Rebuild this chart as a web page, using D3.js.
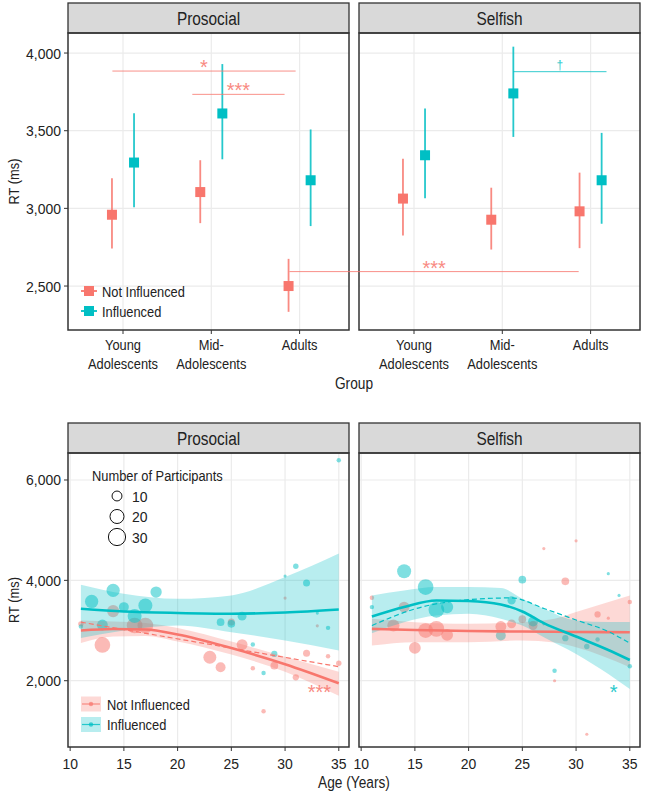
<!DOCTYPE html>
<html>
<head>
<meta charset="utf-8">
<script src="https://cdn.jsdelivr.net/npm/d3@7"></script>
<style>
  body { margin: 0; background: #fff; }
  svg text { font-family: "Liberation Sans", Arial, sans-serif; fill: #222; }
</style>
</head>
<body>
<svg id="chart" width="646" height="795"></svg>
<script>
// ---- data ----
var panels = ["Prosocial", "Selfish"];
var groups = ["Young\nAdolescents", "Mid-\nAdolescents", "Adults"];
var conditions = ["Not Influenced", "Influenced"];

// top: mean RT with interval, [lo, mean, hi]
var prosocialNot = [[2742, 2959, 3194], [2905, 3105, 3310], [2334, 2500, 2675]];
var prosocialInf = [[3008, 3295, 3613], [3316, 3611, 3929], [2886, 3181, 3508]];
var selfishNot   = [[2826, 3063, 3320], [2735, 2927, 3133], [2744, 2981, 3230]];
var selfishInf   = [[3065, 3342, 3643], [3460, 3740, 4041], [2901, 3181, 3486]];

var topYTicks = [2500, 3000, 3500, 4000];
var bottomYTicks = [2000, 4000, 6000];
var ageTicks = [10, 15, 20, 25, 30, 35];
var sizeLegend = [10, 20, 30];

// significance brackets, x in group index units (1..3)
var prosocialBrackets = [
  {x1: 0.88, x2: 2.955, y: 3884, label: "*", cond: 0},
  {x1: 1.785, x2: 2.83, y: 3734, label: "***", cond: 0}
];
var selfishBrackets = [
  {x1: 2.125, x2: 3.18, y: 3880, label: "\u2020", cond: 1}
];
// spans both panels: from Prosocial adults to Selfish adults
var crossBracket = {x1: 2.885, x2: 2.865, y: 2593, label: "***", cond: 0};

// bottom: [age, RT, number of participants]
var prosocialNotPts = [[11,3133,3],[13,2713,25],[14,3387,15],[16,3100,25],[17,3100,25],[23,2467,17],[24,2267,10],[25,3170,5],[26,2720,12],[27,2247,2],[28,1393,2],[29,2300,6],[30,3647,1],[31,2067,4],[32,2547,5],[33,3093,1],[34,2487,2],[35,2347,3]];
var prosocialInfPts = [[11,3080,2],[12,3580,18],[13,3110,12],[14,3800,18],[15,3467,10],[16,3290,20],[17,3500,20],[18,3767,13],[24,3167,6],[25,3133,6],[26,3287,8],[27,2720,2],[28,2153,2],[29,2533,4],[30,4087,1],[31,4280,3],[32,3947,5],[33,3347,1],[34,3053,2],[35,6393,2]];
var selfishNotPts = [[11,3653,2],[13,3100,15],[14,3467,12],[15,2653,14],[16,3000,22],[17,3033,25],[18,2913,14],[23,3080,12],[24,3133,8],[25,3227,6],[26,3100,8],[27,4633,1],[28,2000,1],[29,3980,6],[30,4787,1],[31,933,1],[32,3320,4],[33,3247,1],[35,3567,2]];
var selfishInfPts = [[11,3467,2],[14,4180,20],[16,3867,25],[17,3413,25],[18,3467,15],[23,2900,10],[24,3600,7],[25,4013,6],[26,3180,10],[27,3133,1],[28,2200,2],[29,2847,4],[31,2680,3],[32,2820,2],[33,4133,1],[34,3700,1],[35,2287,2]];

// smooth fits: [age, lo, fit, hi]
var prosocialNotFit = [[11,2750,3000,3200],[14,2880,3030,3180],[17,2890,3020,3150],[20,2780,2920,3050],[25,2520,2650,2780],[30,2180,2330,2480],[35,1700,1950,2180]];
var prosocialInfFit = [[11,2850,3433,3913],[15,3000,3380,3733],[20,3100,3350,3633],[25,2967,3335,3700],[30,2800,3360,4067],[35,2600,3420,4533]];
var selfishNotFit = [[11,2700,3033,3233],[15,2767,3010,3167],[20,2767,2990,3133],[25,2800,2980,3167],[28,2760,2975,3233],[30,2667,2970,3367],[35,2267,2967,3700]];
var selfishInfFit = [[11,2947,3280,3700],[14,3167,3470,3800],[17,3300,3600,3867],[20,3333,3590,3867],[23,3233,3520,3847],[25,3100,3380,3633],[27,2867,3147,3433],[30,2533,2880,3200],[33,2133,2613,3170],[35,1833,2413,3170]];
// dashed trend lines
var prosocialNotTrend = [[11,3167],[35,2280]];
var selfishInfTrend = [[11,3100],[15,3430],[20,3615],[24,3650],[27,3440],[30,3210],[33,2980],[35,2747]];

var colors = ["#F8766D", "#00BFC4"];

// ---- layout ----
var svg = d3.select("#chart");
svg.append("rect").attr("width", 646).attr("height", 795).attr("fill", "#fff");

var panelX = [[68, 349], [359, 640]];
var topBox = {strip: 3, y0: 33, y1: 330};
var botBox = {strip: 423, y0: 453, y1: 747};
var gridColor = "#ebebeb";
var borderColor = "#333";

var yTop = d3.scaleLinear().domain([2217, 4129]).range([topBox.y1, topBox.y0]);
var yBot = d3.scaleLinear().domain([679, 6538]).range([botBox.y1, botBox.y0]);
var size = d3.scaleSqrt().domain([0, 30]).range([0, 8.6]);
var dodge = 0.125;

function groupScale(p) {
  var l = panelX[p][0];
  return d3.scaleLinear().domain([1, 3]).range([l + 55, l + 55 + 2 * 88.3]);
}
function ageScale(p) {
  return d3.scaleLinear().domain([9.8, 35.95]).range(panelX[p]);
}

// condensed-looking text: squeeze a normal sans horizontally
function label(parent, x, y, s, o) {
  o = o || {};
  var numeric = /^[\d,]+$/.test(String(s));
  var sx = o.sx || (numeric ? 0.9 : 0.83);
  return parent.append("text")
    .attr("transform", "translate(" + x + "," + y + ")" + (o.rotate ? " rotate(-90)" : "") + " scale(" + sx + ",1)")
    .attr("text-anchor", o.anchor || "start")
    .attr("font-size", o.size || 15.5)
    .text(s);
}

function strip(p, y, name) {
  var x0 = panelX[p][0], x1 = panelX[p][1];
  svg.append("rect").attr("x", x0).attr("y", y).attr("width", x1 - x0).attr("height", 30)
    .attr("fill", "#d9d9d9").attr("stroke", borderColor).attr("stroke-width", 1.3);
  label(svg, (x0 + x1) / 2, y + 22, name, {anchor: "middle", size: 19, sx: 0.81});
}

function frame(p, box) {
  var x0 = panelX[p][0], x1 = panelX[p][1];
  svg.append("rect").attr("x", x0).attr("y", box.y0).attr("width", x1 - x0).attr("height", box.y1 - box.y0)
    .attr("fill", "none").attr("stroke", borderColor).attr("stroke-width", 1.5);
}

function yAxis(scale, ticks, box) {
  var x0 = panelX[0][0];
  ticks.forEach(function(t) {
    svg.append("line").attr("x1", x0 - 4).attr("x2", x0).attr("y1", scale(t)).attr("y2", scale(t))
      .attr("stroke", borderColor).attr("stroke-width", 1);
    label(svg, x0 - 7, scale(t) + 5.5, d3.format(",")(t), {anchor: "end"});
  });
  label(svg, 19, (box.y0 + box.y1) / 2, "RT (ms)", {anchor: "middle", rotate: true});
}

// significance marks sit just above their line
function stars(parent, x, y, s, cond) {
  var dagger = s === "\u2020";
  parent.append("text").attr("x", x).attr("y", dagger ? y - 3 : y + 3).attr("text-anchor", "middle")
    .attr("font-size", dagger ? 12 : 20)
    .style("fill", colors[cond]).attr("opacity", 0.85).text(s);
}

// ---- top row ----
var topData = [[prosocialNot, prosocialInf], [selfishNot, selfishInf]];
var topBrackets = [prosocialBrackets, selfishBrackets];

panels.forEach(function(name, p) {
  var gx = groupScale(p);
  var x0 = panelX[p][0], x1 = panelX[p][1];
  var g = svg.append("g");
  topYTicks.forEach(function(t) {
    g.append("line").attr("x1", x0).attr("x2", x1).attr("y1", yTop(t)).attr("y2", yTop(t))
      .attr("stroke", gridColor).attr("stroke-width", 1.2);
  });
  groups.forEach(function(c, i) {
    g.append("line").attr("x1", gx(i + 1)).attr("x2", gx(i + 1)).attr("y1", topBox.y0).attr("y2", topBox.y1)
      .attr("stroke", gridColor).attr("stroke-width", 1.2);
    svg.append("line").attr("x1", gx(i + 1)).attr("x2", gx(i + 1)).attr("y1", topBox.y1).attr("y2", topBox.y1 + 4)
      .attr("stroke", borderColor);
    c.split("\n").forEach(function(line, k) {
      label(svg, gx(i + 1), 349.5 + k * 19.5, line, {anchor: "middle"});
    });
  });

  topData[p].forEach(function(series, s) {
    var off = s === 0 ? -dodge : dodge;
    series.forEach(function(d, i) {
      var x = gx(i + 1 + off);
      g.append("line").attr("x1", x).attr("x2", x).attr("y1", yTop(d[0])).attr("y2", yTop(d[2]))
        .attr("stroke", colors[s]).attr("stroke-width", 1.8).attr("opacity", 0.85);
      g.append("rect").attr("x", x - 5).attr("y", yTop(d[1]) - 5).attr("width", 10).attr("height", 10)
        .attr("fill", colors[s]);
    });
  });

  topBrackets[p].forEach(function(b) {
    g.append("line").attr("x1", gx(b.x1)).attr("x2", gx(b.x2)).attr("y1", yTop(b.y)).attr("y2", yTop(b.y))
      .attr("stroke", colors[b.cond]).attr("stroke-width", 1).attr("opacity", 0.8);
    stars(g, (gx(b.x1) + gx(b.x2)) / 2, yTop(b.y), b.label, b.cond);
  });

  strip(p, topBox.strip, name);
  frame(p, topBox);
});

// bracket across both panels
(function() {
  var b = crossBracket;
  var xa = groupScale(0)(b.x1), xb = groupScale(1)(b.x2);
  svg.append("line").attr("x1", xa).attr("x2", xb).attr("y1", yTop(b.y)).attr("y2", yTop(b.y))
    .attr("stroke", colors[b.cond]).attr("stroke-width", 1).attr("opacity", 0.8);
  stars(svg, (xa + xb) / 2, yTop(b.y), b.label, b.cond);
})();

yAxis(yTop, topYTicks, topBox);
label(svg, 354, 388.5, "Group", {anchor: "middle", size: 16.5});

// top legend
conditions.forEach(function(c, s) {
  var y = 291 + s * 20;
  svg.append("line").attr("x1", 81).attr("x2", 97).attr("y1", y).attr("y2", y)
    .attr("stroke", colors[s]).attr("stroke-width", 1.8);
  svg.append("rect").attr("x", 84).attr("y", y - 5).attr("width", 10).attr("height", 10).attr("fill", colors[s]);
  label(svg, 102, y + 5.5, c);
});

// ---- bottom row ----
var botPts = [[prosocialNotPts, prosocialInfPts], [selfishNotPts, selfishInfPts]];
var botFits = [[prosocialNotFit, prosocialInfFit], [selfishNotFit, selfishInfFit]];
var botTrends = [[prosocialNotTrend, null], [null, selfishInfTrend]];
var botStars = [{age: 33.2, rt: 1700, label: "***", cond: 0}, {age: 33.5, rt: 1690, label: "*", cond: 1}];

panels.forEach(function(name, p) {
  var ax = ageScale(p);
  var x0 = panelX[p][0], x1 = panelX[p][1];
  var g = svg.append("g");
  bottomYTicks.forEach(function(t) {
    g.append("line").attr("x1", x0).attr("x2", x1).attr("y1", yBot(t)).attr("y2", yBot(t))
      .attr("stroke", gridColor).attr("stroke-width", 1.2);
  });
  ageTicks.forEach(function(t) {
    g.append("line").attr("x1", ax(t)).attr("x2", ax(t)).attr("y1", botBox.y0).attr("y2", botBox.y1)
      .attr("stroke", gridColor).attr("stroke-width", 1.2);
    svg.append("line").attr("x1", ax(t)).attr("x2", ax(t)).attr("y1", botBox.y1).attr("y2", botBox.y1 + 4)
      .attr("stroke", borderColor);
    label(svg, ax(t), 769, t, {anchor: "middle"});
  });

  var clip = "clip" + p;
  svg.append("clipPath").attr("id", clip).append("rect")
    .attr("x", x0).attr("y", botBox.y0).attr("width", x1 - x0).attr("height", botBox.y1 - botBox.y0);
  var pg = g.append("g").attr("clip-path", "url(#" + clip + ")");

  var area = d3.area().x(function(d) { return ax(d[0]); })
    .y0(function(d) { return yBot(d[1]); }).y1(function(d) { return yBot(d[3]); })
    .curve(d3.curveMonotoneX);
  var fitLine = d3.line().x(function(d) { return ax(d[0]); }).y(function(d) { return yBot(d[2]); })
    .curve(d3.curveMonotoneX);
  var trendLine = d3.line().x(function(d) { return ax(d[0]); }).y(function(d) { return yBot(d[1]); })
    .curve(d3.curveMonotoneX);

  botPts[p].forEach(function(pts, s) {
    pg.selectAll(null).data(pts).enter().append("circle")
      .attr("cx", function(d) { return ax(d[0]); }).attr("cy", function(d) { return yBot(d[1]); })
      .attr("r", function(d) { return size(d[2]); })
      .attr("fill", colors[s]).attr("opacity", 0.5);
  });
  botFits[p].forEach(function(fit, s) {
    pg.append("path").attr("d", area(fit)).attr("fill", colors[s]).attr("opacity", 0.28);
  });
  botFits[p].forEach(function(fit, s) {
    pg.append("path").attr("d", fitLine(fit)).attr("fill", "none").attr("stroke", colors[s])
      .attr("stroke-width", 2.6);
    if (botTrends[p][s]) {
      pg.append("path").attr("d", trendLine(botTrends[p][s])).attr("fill", "none").attr("stroke", colors[s])
        .attr("stroke-width", 1.2).attr("stroke-dasharray", "5,3");
    }
  });

  var st = botStars[p];
  stars(g, ax(st.age), yBot(st.rt), st.label, st.cond);

  strip(p, botBox.strip, name);
  frame(p, botBox);
});

yAxis(yBot, bottomYTicks, botBox);
label(svg, 354, 788, "Age (Years)", {anchor: "middle", size: 16.5});

// size legend
label(svg, 92, 480.5, "Number of Participants");
sizeLegend.forEach(function(n, i) {
  var y = 496 + i * 20.5;
  svg.append("circle").attr("cx", 117).attr("cy", y).attr("r", size(n))
    .attr("fill", "none").attr("stroke", "#111").attr("stroke-width", 1);
  label(svg, 132, y + 5.5, n);
});

// fit legend
conditions.forEach(function(c, s) {
  var y = 704 + s * 20.5;
  svg.append("rect").attr("x", 81).attr("y", y - 7.5).attr("width", 20).attr("height", 15)
    .attr("fill", colors[s]).attr("opacity", 0.28);
  svg.append("line").attr("x1", 82).attr("x2", 100).attr("y1", y).attr("y2", y)
    .attr("stroke", colors[s]).attr("stroke-width", 1.2).attr("opacity", 0.8);
  svg.append("circle").attr("cx", 91).attr("cy", y).attr("r", 2.2).attr("fill", colors[s]).attr("opacity", 0.7);
  label(svg, 107, y + 5.5, c);
});
</script>
</body>
</html>
